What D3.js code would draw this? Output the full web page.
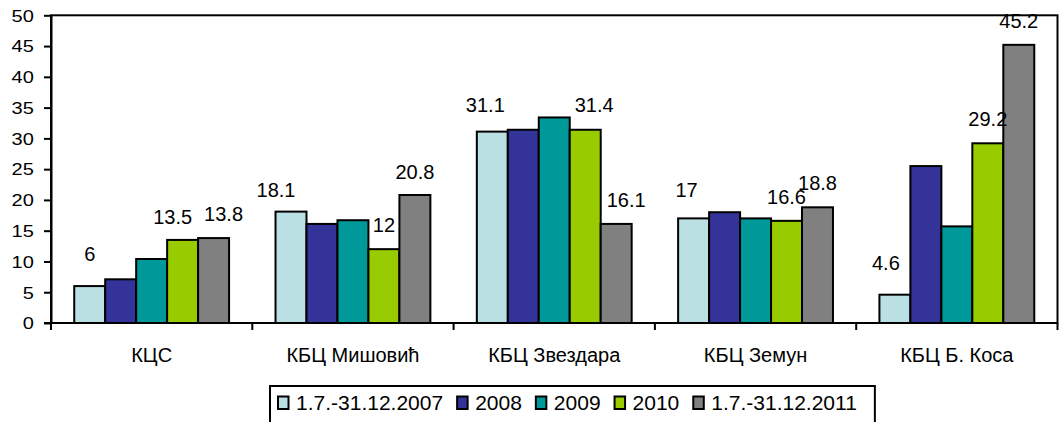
<!DOCTYPE html>
<html>
<head>
<meta charset="utf-8">
<script src="https://cdn.jsdelivr.net/npm/d3@7"></script>
<style>
  body { margin: 0; background: #fff; }
  svg text { font-family: "Liberation Sans", Arial, sans-serif; fill: #000; }
</style>
</head>
<body>
<svg id="chart" width="1060" height="422"></svg>
<script>
// data
const categories = ['КЦС', 'КБЦ Мишовић', 'КБЦ Звездара', 'КБЦ Земун', 'КБЦ Б. Коса'];
const seriesNames = ['1.7.-31.12.2007', '2008', '2009', '2010', '1.7.-31.12.2011'];
const values2007 = [6, 18.1, 31.1, 17, 4.6];
const values2008 = [7.1, 16.1, 31.4, 18.0, 25.5];
const values2009 = [10.4, 16.7, 33.4, 17.0, 15.7];
const values2010 = [13.5, 12, 31.4, 16.6, 29.2];
const values2011 = [13.8, 20.8, 16.1, 18.8, 45.2];
const yTicks = [0, 5, 10, 15, 20, 25, 30, 35, 40, 45, 50];

const seriesValues = [values2007, values2008, values2009, values2010, values2011];
const colors = ['#bbe0e3', '#333399', '#009999', '#99cc00', '#808080'];
// only these series carry value labels in the original
const labelledSeries = [0, 3, 4];
// hand nudges of the labels (dx, extra lift), like the moved Excel labels
const labelNudge = {
  0: [[0, 8], [-15, -2], [-7, 3], [-7, 4], [-9, 8]],
  3: [[-10, -1], [0, 0], [9, 1], [0, 0], [0, 0]],
  4: [[10, 0], [0, -1], [10, 0], [0, 0], [0, 0]]
};

const svg = d3.select('#chart');
const plot = { left: 51, right: 1057.5, top: 15.3, bottom: 323 };

const x0 = d3.scaleBand()
  .domain(categories)
  .range([plot.left, plot.right])
  .padding(0);

const x1 = d3.scaleBand()
  .domain(d3.range(seriesNames.length))
  .range([0, x0.bandwidth()])
  .paddingInner(0)
  .paddingOuter(0.75);

const y = d3.scaleLinear()
  .domain([0, 50])
  .range([plot.bottom, plot.top]);

// plot frame
svg.append('rect')
  .attr('x', plot.left)
  .attr('y', plot.top)
  .attr('width', plot.right - plot.left)
  .attr('height', plot.bottom - plot.top)
  .attr('fill', 'none')
  .attr('stroke', '#000')
  .attr('stroke-width', 2);

// bars
const groups = svg.selectAll('g.group')
  .data(categories)
  .enter()
  .append('g')
  .attr('class', 'group')
  .attr('transform', d => `translate(${x0(d)},0)`);

groups.selectAll('rect')
  .data((d, gi) => seriesValues.map((vals, si) => ({ si, v: vals[gi] })))
  .enter()
  .append('rect')
  .attr('x', d => x1(d.si))
  .attr('y', d => y(d.v))
  .attr('width', x1.bandwidth())
  .attr('height', d => y(0) - y(d.v))
  .attr('fill', d => colors[d.si])
  .attr('stroke', '#000')
  .attr('stroke-width', 2);

// value labels
const labels = [];
labelledSeries.forEach(si => {
  seriesValues[si].forEach((v, gi) => {
    labels.push({ si, gi, v, nudge: labelNudge[si][gi] });
  });
});

svg.selectAll('text.value')
  .data(labels)
  .enter()
  .append('text')
  .attr('class', 'value')
  .attr('x', d => x0(categories[d.gi]) + x1(d.si) + x1.bandwidth() / 2 + d.nudge[0])
  .attr('y', d => y(d.v) - 17 - d.nudge[1])
  .attr('text-anchor', 'middle')
  .style('font-size', '20px')
  .text(d => d.v);

// y axis
const yAxis = svg.append('g')
  .attr('transform', `translate(${plot.left},0)`)
  .call(d3.axisLeft(y).tickValues(yTicks).tickSize(7).tickSizeOuter(0));
yAxis.select('.domain').attr('stroke', '#000').attr('stroke-width', 2);
yAxis.selectAll('.tick line').attr('stroke', '#000').attr('stroke-width', 2);
yAxis.selectAll('.tick text')
  .attr('x', -13.8)
  .attr('dy', '0.36em')
  .attr('transform', 'scale(1.25,1)')
  .style('font-size', '16px');

// x axis: ticks between categories
const xAxis = svg.append('g')
  .attr('transform', `translate(0,${plot.bottom})`);
xAxis.append('line')
  .attr('x1', plot.left - 7)
  .attr('x2', plot.right)
  .attr('stroke', '#000')
  .attr('stroke-width', 2);
xAxis.selectAll('line.tick')
  .data(categories.concat(['end']))
  .enter()
  .append('line')
  .attr('class', 'tick')
  .attr('x1', (d, i) => i < categories.length ? x0(d) : plot.right)
  .attr('x2', (d, i) => i < categories.length ? x0(d) : plot.right)
  .attr('y1', 0)
  .attr('y2', 7)
  .attr('stroke', '#000')
  .attr('stroke-width', 2);
xAxis.selectAll('text')
  .data(categories)
  .enter()
  .append('text')
  .attr('x', d => x0(d) + x0.bandwidth() / 2)
  .attr('y', 39)
  .attr('text-anchor', 'middle')
  .style('font-size', '20px')
  .text(d => d);

// legend
const legend = svg.append('g').attr('transform', 'translate(270,386)');
const legendBox = legend.append('rect')
  .attr('x', 0)
  .attr('y', 0)
  .attr('height', 60)
  .attr('fill', '#fff')
  .attr('stroke', '#000')
  .attr('stroke-width', 2);

let cursor = 8;
seriesNames.forEach((name, i) => {
  legend.append('rect')
    .attr('x', cursor)
    .attr('y', 10.5)
    .attr('width', 10.5)
    .attr('height', 12.5)
    .attr('fill', colors[i])
    .attr('stroke', '#000')
    .attr('stroke-width', 2);
  const t = legend.append('text')
    .attr('x', cursor + 18)
    .attr('y', 23.5)
    .style('font-size', '21px')
    .text(name);
  cursor += 18 + t.node().getComputedTextLength() + 14;
});
legendBox.attr('width', cursor + 4);
</script>
</body>
</html>
